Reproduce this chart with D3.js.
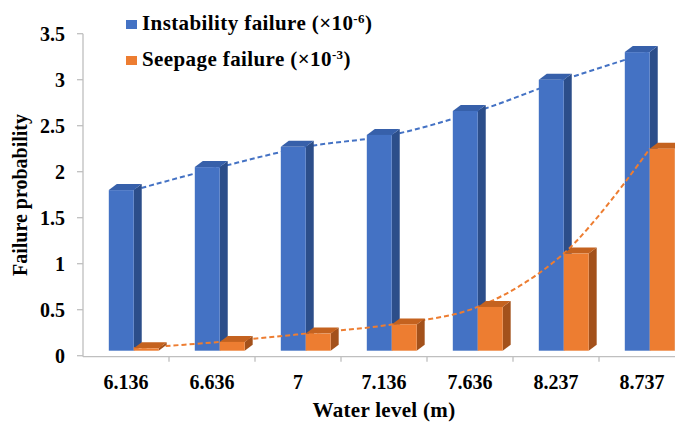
<!DOCTYPE html>
<html>
<head>
<meta charset="utf-8">
<script src="https://cdnjs.cloudflare.com/ajax/libs/d3/7.8.5/d3.min.js"></script>
<style>
body { margin: 0; background: #fff; }
svg text { font-family: "Liberation Serif", "Times New Roman", serif; font-weight: bold; fill: #000; }
</style>
</head>
<body>
<div id="chart"></div>
<script>
// chart data
var levels = ["6.136", "6.636", "7", "7.136", "7.636", "8.237", "8.737"];
var instability = [1.80, 2.05, 2.27, 2.40, 2.66, 3.00, 3.30];
var seepage = [0.08, 0.15, 0.24, 0.34, 0.53, 1.11, 2.25];
var yTicks = [0, 0.5, 1, 1.5, 2, 2.5, 3, 3.5];
var seriesNames = ["Instability failure", "Seepage failure"];
var seriesExp = ["-6", "-3"];

var width = 675, height = 423;
var DX = 8, DY = 6, FLOOR = 5;   // fake 3d depth of the columns

var palette = [
    {front: "#4472C4", side: "#2C4E8A", top: "#3760AA", line: "#4472C4"},
    {front: "#ED7D31", side: "#A3511B", top: "#C4621F", line: "#ED7D31"}
];

var svg = d3.select("#chart").append("svg")
    .attr("width", width)
    .attr("height", height);

var x = d3.scaleBand().domain(levels).range([83, 685]);
var y = d3.scaleLinear().domain([0, 3.5]).range([355.7, 33.7]);
var bw = x.bandwidth();
var sub = d3.scaleBand().domain([0, 1]).range([0, bw * 0.58]);

function groupStart(i) { return x(levels[i]) + bw * 0.3; }

// ****************** axes ***************************
var axisColor = "#BFBFBF";

svg.append("line")
    .attr("x1", 83).attr("x2", 83)
    .attr("y1", y(3.5)).attr("y2", y(0) + 1)
    .attr("stroke", axisColor).attr("stroke-width", 1.3);

svg.selectAll("line.ytick")
    .data(yTicks).enter().append("line")
    .attr("class", "ytick")
    .attr("x1", 77).attr("x2", 83)
    .attr("y1", function(d) { return y(d); })
    .attr("y2", function(d) { return y(d); })
    .attr("stroke", axisColor).attr("stroke-width", 1.3);

svg.selectAll("text.ylabel")
    .data(yTicks).enter().append("text")
    .attr("class", "ylabel")
    .attr("x", 65)
    .attr("y", function(d) { return y(d); })
    .attr("dy", "0.36em")
    .attr("text-anchor", "end")
    .style("font-size", "20px")
    .text(function(d) { return d; });

svg.append("line")
    .attr("x1", 83).attr("x2", width)
    .attr("y1", y(0) + 1).attr("y2", y(0) + 1)
    .attr("stroke", axisColor).attr("stroke-width", 1.3);

svg.selectAll("line.xtick")
    .data(levels).enter().append("line")
    .attr("class", "xtick")
    .attr("x1", function(d) { return x(d) + bw; })
    .attr("x2", function(d) { return x(d) + bw; })
    .attr("y1", y(0) + 1).attr("y2", y(0) + 6)
    .attr("stroke", axisColor).attr("stroke-width", 1.3);

svg.selectAll("text.xlabel")
    .data(levels).enter().append("text")
    .attr("class", "xlabel")
    .attr("x", function(d) { return x(d) + bw / 2; })
    .attr("y", 389)
    .attr("text-anchor", "middle")
    .style("font-size", "20px")
    .text(function(d) { return d; });

svg.append("text")
    .attr("transform", "translate(27,195) rotate(-90)")
    .attr("text-anchor", "middle")
    .style("font-size", "20px")
    .text("Failure probability");

svg.append("text")
    .attr("x", 384).attr("y", 417)
    .attr("text-anchor", "middle")
    .style("font-size", "21px")
    .style("letter-spacing", "0.3px")
    .text("Water level (m)");

// ****************** columns and trend lines ***************************
function trendLine(values, k) {
    var line = d3.line()
        .x(function(d, i) { return groupStart(i) + sub.bandwidth(); })
        .y(function(d) { return y(d); })
        .curve(d3.curveCatmullRom);
    svg.append("path")
        .attr("d", line(values))
        .attr("fill", "none")
        .attr("stroke", palette[k].line)
        .attr("stroke-width", 2)
        .attr("stroke-dasharray", "5,3");
}

function columns(values, k) {
    var c = palette[k];
    var g = svg.append("g").attr("class", "series" + k);
    var bar = g.selectAll("g.bar")
        .data(values).enter().append("g")
        .attr("class", "bar");
    var base = y(0) - FLOOR;
    var w = sub.bandwidth();

    function x0(i) { return groupStart(i) + sub(k); }

    // side face
    bar.append("path")
        .attr("fill", c.side)
        .attr("d", function(d, i) {
            var a = x0(i) + w, t = y(d);
            return "M" + a + "," + base + "L" + (a + DX) + "," + (base - DY) +
                "L" + (a + DX) + "," + (t - DY) + "L" + a + "," + t + "Z";
        });
    // top face
    bar.append("path")
        .attr("fill", c.top)
        .attr("d", function(d, i) {
            var a = x0(i), t = y(d);
            return "M" + a + "," + t + "L" + (a + DX) + "," + (t - DY) +
                "L" + (a + w + DX) + "," + (t - DY) + "L" + (a + w) + "," + t + "Z";
        });
    // front face
    bar.append("rect")
        .attr("x", function(d, i) { return x0(i); })
        .attr("y", function(d) { return y(d); })
        .attr("width", w)
        .attr("height", function(d) { return Math.max(0, base - y(d)); })
        .attr("fill", c.front);
}

trendLine(instability, 0);
columns(instability, 0);
trendLine(seepage, 1);
columns(seepage, 1);

// ****************** legend ***************************
var legend = svg.selectAll("g.legend")
    .data(seriesNames).enter().append("g")
    .attr("class", "legend")
    .attr("transform", function(d, i) { return "translate(126," + (20 + i * 36) + ")"; });

legend.append("rect")
    .attr("width", 11).attr("height", 9)
    .attr("fill", function(d, i) { return palette[i].front; });

var lt = legend.append("text")
    .attr("x", 16).attr("y", 9.5)
    .style("font-size", "21px")
    .style("letter-spacing", "0.4px");
lt.append("tspan").text(function(d) { return d + " (\u00d710"; });
lt.append("tspan")
    .attr("dy", -7)
    .style("font-size", "13px")
    .text(function(d, i) { return seriesExp[i]; });
lt.append("tspan")
    .attr("dy", 7)
    .text(")");
</script>
</body>
</html>
